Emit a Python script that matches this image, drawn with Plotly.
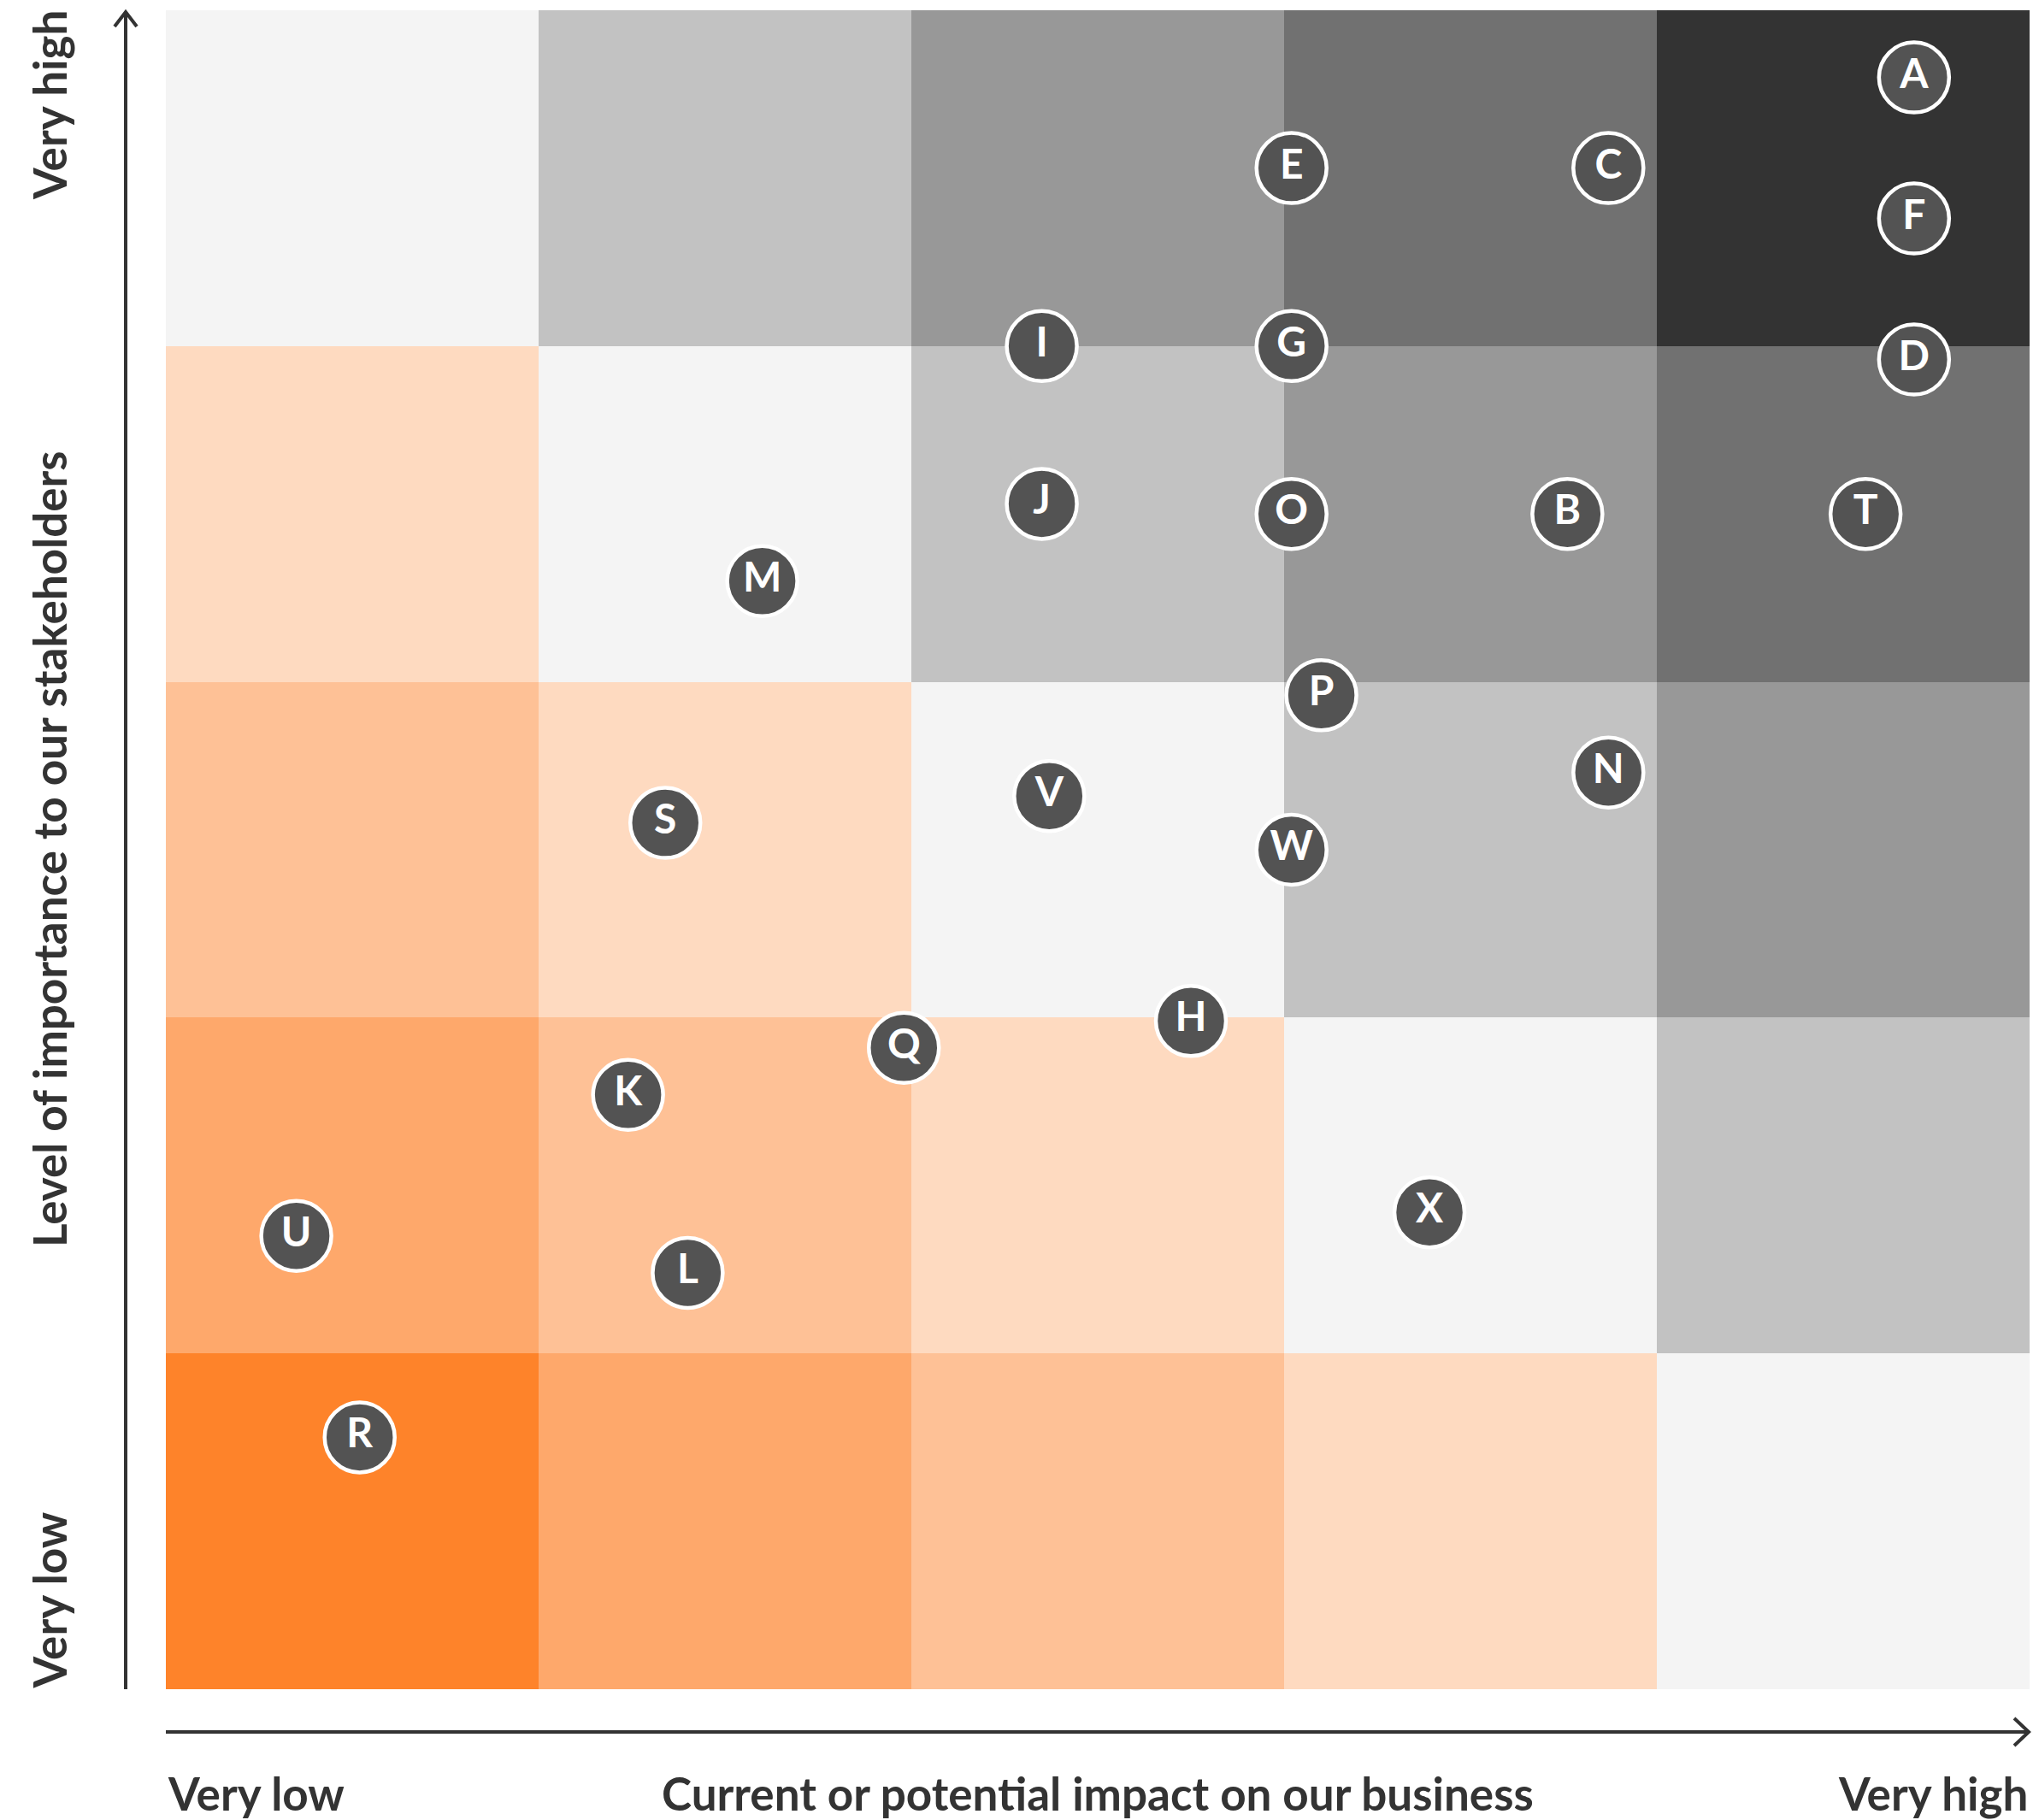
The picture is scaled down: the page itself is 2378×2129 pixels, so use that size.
import plotly.graph_objects as go

# ---- data ----
labels = ["A", "E", "C", "F", "I", "G", "D", "J", "O", "B", "T", "M",
          "P", "N", "V", "S", "W", "H", "Q", "K", "X", "U", "L", "R"]
impact = [4.69, 3.02, 3.87, 4.69, 2.35, 3.02, 4.69, 2.35, 3.02, 3.76, 4.56, 1.60,
          3.10, 3.87, 2.37, 1.34, 3.02, 2.75, 1.98, 1.24, 3.39, 0.35, 1.40, 0.52]
importance = [4.80, 4.53, 4.53, 4.38, 4.00, 4.00, 3.96, 3.53, 3.50, 3.50, 3.50, 3.30,
              2.96, 2.73, 2.66, 2.58, 2.50, 1.99, 1.91, 1.77, 1.42, 1.35, 1.24, 0.75]

cell_centers = [0.5, 1.5, 2.5, 3.5, 4.5]
# grid level per cell (row = importance band from bottom, col = impact band)
levels = [
    [0, 1, 2, 3, 4],
    [1, 2, 3, 4, 5],
    [2, 3, 4, 5, 6],
    [3, 4, 5, 6, 7],
    [4, 5, 6, 7, 8],
]
level_colors = ["#fe832a", "#fea86b", "#fec196", "#fedac0", "#f4f4f4",
                "#c2c2c2", "#989898", "#717171", "#333333"]

x_title = "Current or potential impact on our business"
y_title = "Level of importance to our stakeholders"
low_label = "Very low"
high_label = "Very high"

# ---- figure geometry ----
W, H = 2378, 2129
ML, MR, MT, MB = 194, 4, 12, 153
PW, PH = W - ML - MR, H - MT - MB


def px(xp):
    return (xp - ML) / PW


def py(yp):
    return (H - MB - yp) / PH


n = len(level_colors)
colorscale = []
for k, c in enumerate(level_colors):
    colorscale.append([k / n, c])
    colorscale.append([(k + 1) / n, c])

FONT = "Lato"
TXT = "#333333"

fig = go.Figure()
fig.add_trace(go.Heatmap(
    x=cell_centers, y=cell_centers, z=levels,
    colorscale=colorscale, zmin=-0.5, zmax=n - 0.5,
    showscale=False, hoverinfo="skip", xgap=0, ygap=0,
))
fig.add_trace(go.Scatter(
    x=impact, y=importance, text=labels, mode="markers+text",
    textposition="middle center",
    marker=dict(size=82, color="#535353", line=dict(color="white", width=4.5)),
    textfont=dict(family=FONT, size=48, color="white", weight=700),
    hoverinfo="text", showlegend=False, cliponaxis=False,
))

axis_line = dict(color=TXT, width=4)
shapes = [
    # y axis arrow
    dict(type="line", xref="paper", yref="paper",
         x0=px(147), x1=px(147), y0=py(1976), y1=py(14), line=axis_line),
    dict(type="path", xref="paper", yref="paper",
         path=f"M {px(134)} {py(31)} L {px(147)} {py(14)} L {px(160)} {py(31)}",
         line=axis_line),
    # x axis arrow
    dict(type="line", xref="paper", yref="paper",
         x0=px(194), x1=px(2372), y0=py(2026), y1=py(2026), line=axis_line),
    dict(type="path", xref="paper", yref="paper",
         path=f"M {px(2356)} {py(2010)} L {px(2373)} {py(2026)} L {px(2356)} {py(2042)}",
         line=axis_line),
]

lab_font = dict(family=FONT, size=53, color=TXT, weight=700)
annotations = [
    dict(text=low_label, x=0, xanchor="left", y=py(2097), yanchor="middle"),
    dict(text=x_title, x=0.5, xanchor="center", y=py(2097), yanchor="middle"),
    dict(text=high_label, x=1, xanchor="right", y=py(2097), yanchor="middle"),
    dict(text=high_label, x=px(57), xanchor="center", y=py(10), yanchor="top", textangle=-90),
    dict(text=y_title, x=px(57), xanchor="center", y=py(993), yanchor="middle", textangle=-90),
    dict(text=low_label, x=px(57), xanchor="center", y=py(1978), yanchor="bottom", textangle=-90),
]
for a in annotations:
    a.update(xref="paper", yref="paper", showarrow=False, font=lab_font)

fig.update_layout(
    width=W, height=H,
    margin=dict(l=ML, r=MR, t=MT, b=MB, pad=0),
    paper_bgcolor="white", plot_bgcolor="white",
    xaxis=dict(range=[0, 5], visible=False, fixedrange=True),
    yaxis=dict(range=[0, 5], visible=False, fixedrange=True),
    shapes=shapes, annotations=annotations, showlegend=False,
)

fig.write_html("out.html")
